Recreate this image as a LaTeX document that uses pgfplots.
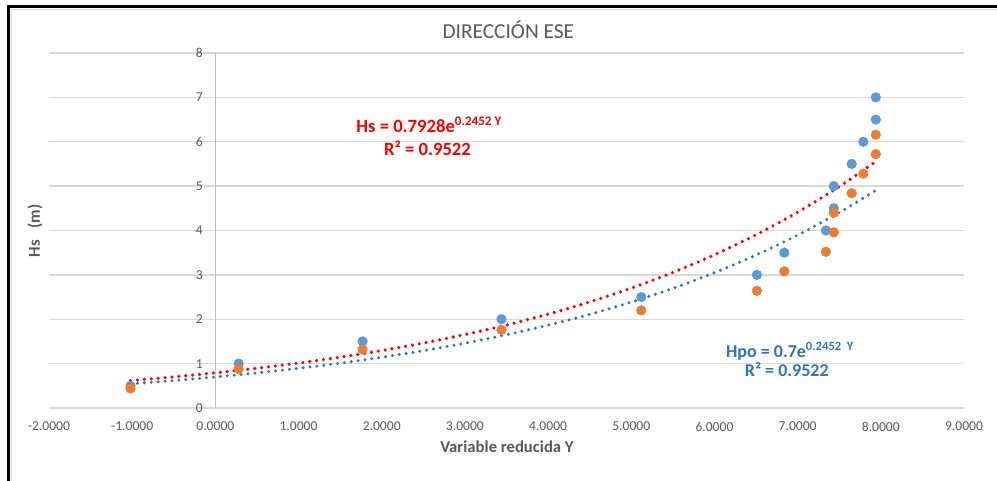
\documentclass[border=0pt]{standalone}
\usepackage{pgfplots}
\pgfplotsset{compat=1.18}
\usepackage{fontspec}
\setmainfont{Carlito}

\definecolor{txtgray}{HTML}{595959}
\definecolor{gridgray}{HTML}{D9D9D9}
\definecolor{axgray}{HTML}{BFBFBF}
\definecolor{ptblue}{HTML}{5B9BD5}
\definecolor{ptorange}{HTML}{ED7D31}
\definecolor{trblue}{HTML}{2E75B6}
\definecolor{trred}{HTML}{FF0000}

\begin{document}
\begin{tikzpicture}
\path[use as bounding box] (-36.75pt,-54pt) rectangle (711pt,306pt);
\draw[line width=2.25pt, black, line join=miter] (-30.4pt,-60pt) -- (-30.4pt,301.1pt) -- (715pt,301.1pt);
\draw[gridgray, line width=0.75pt] (-28.1pt,-60pt) -- (-28.1pt,298.9pt) -- (715pt,298.9pt);
\begin{axis}[
    scale only axis,
    width=686.25pt, height=266.25pt,
    xmin=-2, xmax=9,
    ymin=0, ymax=8,
    axis x line=bottom,
    axis y line=center,
    hide obscured y ticks=false,
    hide obscured x ticks=false,
    x axis line style={gridgray, line width=1pt, -},
    y axis line style={axgray, line width=0.75pt, -},
    xtick={-2,-1,0,1,2,3,4,5,6,7,8,9},
    ytick={0,1,2,3,4,5,6,7,8},
    major tick length=0pt,
    ymajorgrids=true,
    grid style={gridgray, line width=1pt},
    xticklabel style={/pgf/number format/fixed, /pgf/number format/fixed zerofill,
        /pgf/number format/precision=4, /pgf/number format/assume math mode=true,
        font=\fontsize{10.2}{12}\selectfont, text=txtgray, yshift=-7pt},
    yticklabel style={/pgf/number format/assume math mode=true,
        font=\fontsize{10.2}{12}\selectfont, text=txtgray, xshift=-6pt},
    clip=false,
]
% puntos Hs (azul)
\addplot[only marks, mark=*, mark size=3.6pt, mark options={draw=ptblue, fill=ptblue}]
    coordinates {
    (-1.02,0.5)(0.28,1.0)(1.77,1.5)(3.44,2.0)(5.12,2.5)(6.51,3.0)(6.84,3.5)
    (7.34,4.0)(7.435,4.5)(7.435,5.0)(7.65,5.5)(7.79,6.0)(7.94,6.5)(7.94,7.0)
    };
% puntos Hpo (naranja)
\addplot[only marks, mark=*, mark size=3.6pt, mark options={draw=ptorange, fill=ptorange}]
    coordinates {
    (-1.02,0.44)(0.28,0.88)(1.77,1.32)(3.44,1.76)(5.12,2.20)(6.51,2.64)(6.84,3.08)
    (7.34,3.52)(7.435,3.96)(7.435,4.40)(7.65,4.84)(7.79,5.28)(7.94,5.72)(7.94,6.16)
    };
% tendencia Hs
\addplot[trred, smooth, no marks, line width=2.7pt, line cap=round, dash pattern=on 0pt off 5.2pt]
    coordinates {
    (-1.02,0.617)(-0.5,0.701)(0,0.793)(0.5,0.896)(1,1.013)(1.5,1.145)(2,1.295)
    (2.5,1.464)(3,1.655)(3.5,1.870)(4,2.114)(4.5,2.390)(5,2.702)(5.5,3.054)
    (6,3.453)(6.5,3.903)(7,4.413)(7.5,4.987)(7.94,5.555)
    };
% tendencia Hpo
\addplot[trblue, smooth, no marks, line width=2.5pt, line cap=round, dash pattern=on 0pt off 5.2pt]
    coordinates {
    (-1.02,0.545)(-0.5,0.619)(0,0.700)(0.5,0.791)(1,0.895)(1.5,1.011)(2,1.143)
    (2.5,1.292)(3,1.461)(3.5,1.651)(4,1.867)(4.5,2.110)(5,2.386)(5.5,2.696)
    (6,3.049)(6.5,3.446)(7,3.896)(7.5,4.403)(7.94,4.905)
    };

\node[anchor=base, text=trred, font=\bfseries\fontsize{14}{16}\selectfont] at (axis cs:2.57,6.20) {Hs = 0.7928e\textsuperscript{0.2452 Y}};
\node[anchor=base, text=trred, font=\bfseries\fontsize{14}{16}\selectfont] at (axis cs:2.55,5.70) {R² = 0.9522};
\node[anchor=base, text=trblue, font=\bfseries\fontsize{13.5}{16}\selectfont] at (axis cs:6.91,1.14) {Hpo = 0.7e\textsuperscript{0.2452~~Y}};
\node[anchor=base, text=trblue, font=\bfseries\fontsize{13.5}{16}\selectfont] at (axis cs:6.87,0.71) {R² = 0.9522};

\node[anchor=base, text=txtgray, font=\fontsize{16}{18}\selectfont] at (rel axis cs:0.502,1.0414) {DIRECCIÓN ESE};
\node[anchor=base, text=txtgray, font=\bfseries\fontsize{12.5}{14}\selectfont] at (rel axis cs:0.5005,-0.126) {Variable reducida Y};
\node[anchor=center, rotate=90, text=txtgray, font=\bfseries\fontsize{12.5}{14}\selectfont] at (rel axis cs:-0.0153,0.4986) {Hs~~~(m)};
\end{axis}
\end{tikzpicture}
\end{document}
